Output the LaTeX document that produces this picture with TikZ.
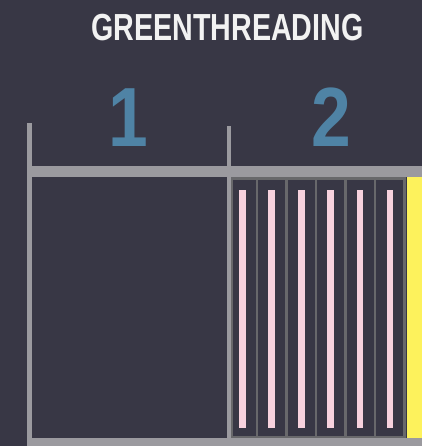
\documentclass[tikz,border=0pt]{standalone}
\usepackage{fontspec}
\setmainfont{Liberation Sans}
\definecolor{bgc}{HTML}{383745}
\definecolor{barc}{HTML}{9B9A9F}
\definecolor{boxc}{HTML}{68686B}
\definecolor{pinkc}{HTML}{F7D2DE}
\definecolor{yellowc}{HTML}{FDF25C}
\definecolor{bluec}{HTML}{4F83A5}
\definecolor{titlec}{HTML}{F2F2F2}
\tikzset{
  bar/.style={fill=barc},
  slot/.style={draw=boxc, line width=2.6pt},
  thread/.style={fill=pinkc},
  numlabel/.style={inner sep=0pt, anchor=base, text=bluec, font=\bfseries\fontsize{84}{84}\selectfont},
  titlelabel/.style={inner sep=0pt, anchor=base, text=titlec, font=\bfseries\fontsize{37.7}{40}\selectfont}
}
\begin{document}
\begin{tikzpicture}[x=1pt,y=-1pt]
\fill[bgc] (0,0) rectangle (422,446);
\useasboundingbox (0,0) rectangle (422,446);
% title and numbers
\node[titlelabel] (title) at (227.5,41) {\scalebox{0.76}[1]{GREENTHREADING}};
\node[numlabel] (one) at (128,147) {\scalebox{0.85}[1]{1}};
\node[numlabel] (two) at (331,147) {\scalebox{0.85}[1]{2}};
% yellow strip
\fill[yellowc] (407,177) rectangle (422,438);
% slots
\foreach \a/\b in {231.5/257, 257/286.5, 286.5/316, 316/345.5, 345.5/375, 375/404.5}
  \draw[slot] (\a,178.3) rectangle (\b,437);
% threads
\foreach \c in {242.7,271.7,301.7,330.7,360,390}
  \fill[thread] (\c-3.3,190) rectangle (\c+3.3,427.7);
% gray frame
\fill[bar] (27,166) rectangle (422,177);
\fill[bar] (27,123) rectangle (32,446);
\fill[bar] (227,126) rectangle (230.5,438);
\fill[bar] (27,438) rectangle (422,446);
\end{tikzpicture}
\end{document}
